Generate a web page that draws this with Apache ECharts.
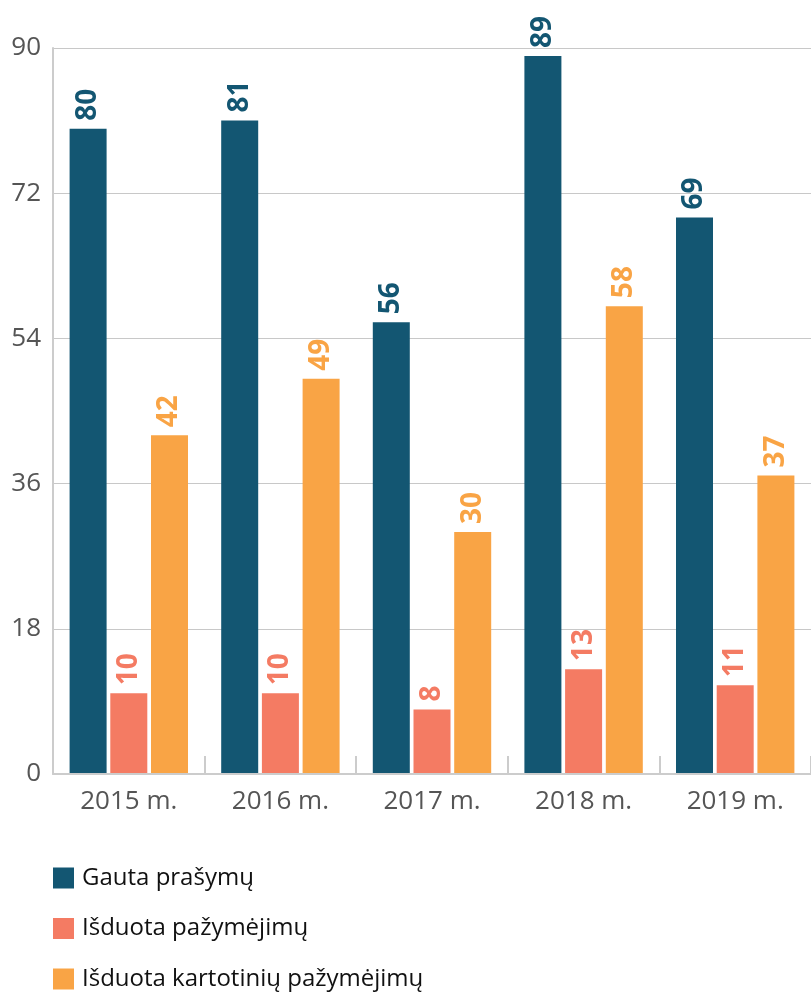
<!DOCTYPE html>
<html lang="lt">
<head>
    <meta charset="utf-8">
    <title>Prašymai ir pažymėjimai</title>
    <script src="https://cdn.jsdelivr.net/npm/echarts@6/dist/echarts.min.js"></script>
    <style>
        html, body { margin: 0; padding: 0; background: #fff; }
        #main { width: 811px; height: 994px; }
    </style>
</head>
<body>
<div id="main"></div>
<script type="text/javascript">
    // duomenys
    var years = ['2015 m.', '2016 m.', '2017 m.', '2018 m.', '2019 m.'];
    var gauta = [80, 81, 56, 89, 69];
    var isduota = [10, 10, 8, 13, 11];
    var kartotiniu = [42, 49, 30, 58, 37];
    var names = ['Gauta prašymų', 'Išduota pažymėjimų', 'Išduota kartotinių pažymėjimų'];
    var colors = ['#135672', '#F47B63', '#F9A445'];

    var font = '"Open Sans", "Noto Sans", sans-serif';

    function makeSeries(i, data) {
        return {
            name: names[i],
            type: 'bar',
            data: data,
            barWidth: 37,
            barGap: '10%',
            itemStyle: { color: colors[i] },
            label: {
                show: true,
                position: 'top',
                rotate: 90,
                align: 'left',
                verticalAlign: 'middle',
                distance: 8,
                color: colors[i],
                fontFamily: font,
                fontWeight: 'bold',
                fontSize: 28
            }
        };
    }

    // atskira legenda kiekvienai eilutei, kad nesilaužytų į stulpelius
    function makeLegend(i) {
        return {
            orient: 'vertical',
            left: 53,
            top: 866 + i * 50.5,
            padding: 0,
            itemWidth: 21,
            itemHeight: 21,
            icon: 'rect',
            textStyle: { fontFamily: font, fontSize: 24, color: '#111', padding: [0, 0, 0, 3] },
            data: [names[i]]
        };
    }

    var myChart = echarts.init(document.getElementById('main'));

    var option = {
        animation: false,
        color: colors,
        grid: { left: 53, right: -10, top: 48, height: 726, containLabel: false },
        legend: [makeLegend(0), makeLegend(1), makeLegend(2)],
        xAxis: {
            type: 'category',
            data: years,
            axisLine: { lineStyle: { color: '#cccccc', width: 2 } },
            axisTick: { show: true, inside: true, length: 18, lineStyle: { color: '#cccccc', width: 2 } },
            axisLabel: { fontFamily: font, fontSize: 26, color: '#555', margin: 15 },
            z: 5
        },
        yAxis: {
            type: 'value',
            min: 0,
            max: 90,
            interval: 18,
            axisLine: { show: true, lineStyle: { color: '#cccccc', width: 2 } },
            axisTick: { show: false },
            splitLine: { lineStyle: { color: '#c8c8c8', width: 1 } },
            axisLabel: { fontFamily: font, fontSize: 26, color: '#555', margin: 12 }
        },
        series: [
            makeSeries(0, gauta),
            makeSeries(1, isduota),
            makeSeries(2, kartotiniu)
        ]
    };

    myChart.setOption(option);
</script>
</body>
</html>
